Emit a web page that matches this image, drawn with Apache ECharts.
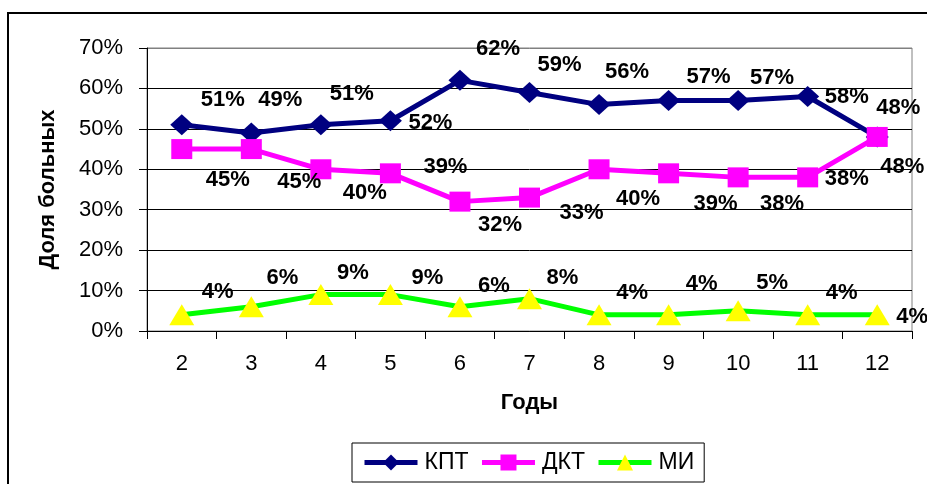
<!DOCTYPE html>
<html>
<head>
<meta charset="utf-8">
<script src="https://cdn.jsdelivr.net/npm/echarts@6/dist/echarts.min.js"></script>
<style>
  html, body { margin: 0; padding: 0; background: #fff; }
  #chart { width: 927px; height: 484px; }
</style>
</head>
<body>
<div id="chart"></div>
<script>
// Годы наблюдения
const years = ['2', '3', '4', '5', '6', '7', '8', '9', '10', '11', '12'];

// Доля больных, %
const kpt = [51, 49, 51, 52, 62, 59, 56, 57, 57, 58, 48];
const dkt = [45, 45, 40, 39, 32, 33, 40, 39, 38, 38, 48];
const mi  = [4, 6, 9, 9, 6, 8, 4, 4, 5, 4, 4];

// Y axis ticks
const yTicks = [0, 10, 20, 30, 40, 50, 60, 70];

// Where each value label sits relative to its point (px)
const kptLabelShift = [[41,-25],[29,-33],[31,-31],[40,2],[38,-31],[30,-28],[28,-33],[40,-24],[34,-23],[39,0],[21,-29]];
const dktLabelShift = [[46,31],[48,33],[44,24],[55,-6],[40,23],[52,15],[39,30],[47,31],[44,27],[39,2],[25,30]];
const miLabelShift  = [[36,-23],[31,-29],[32,-22],[37,-17],[34,-21],[33,-21],[33,-22],[33,-31],[34,-28],[34,-22],[35,2]];

const FONT = '"Liberation Sans", Arial, sans-serif';

function withLabels(values, shifts) {
  return values.map((v, i) => ({ value: v, label: { offset: shifts[i] } }));
}

const valueLabel = {
  show: true,
  position: 'inside',
  formatter: '{c}%',
  fontFamily: FONT,
  fontSize: 22,
  fontWeight: 'bold',
  color: '#000'
};

const chart = echarts.init(document.getElementById('chart'), null, { renderer: 'canvas' });

chart.setOption({
  backgroundColor: '#fff',
  animation: false,
  textStyle: { fontFamily: FONT },
  graphic: [{
    type: 'rect',
    shape: { x: 8, y: 13, width: 1000, height: 1000 },
    style: { fill: 'none', stroke: '#000', lineWidth: 2 },
    z: -1,
    silent: true
  }],
  grid: {
    left: 147, top: 48, width: 765, height: 283,
    show: true, borderColor: '#808080', borderWidth: 1,
    backgroundColor: 'transparent'
  },
  legend: {
    left: 352, top: 443,
    padding: [8, 10, 8, 10],
    itemGap: 11,
    itemWidth: 53,
    itemHeight: 20,
    borderColor: '#000',
    borderWidth: 1,
    backgroundColor: '#fff',
    lineStyle: { width: 5 },
    textStyle: { fontFamily: FONT, fontSize: 23, color: '#000', padding: [0, 0, 0, 2] },
    data: [
      { name: 'КПТ', itemStyle: { color: '#000080' }, lineStyle: { color: '#000080', width: 5 } },
      { name: 'ДКТ', itemStyle: { color: '#FF00FF' }, lineStyle: { color: '#FF00FF', width: 5 } },
      { name: 'МИ', itemStyle: { color: '#FFFF00' }, lineStyle: { color: '#00FF00', width: 5 } }
    ]
  },
  xAxis: {
    type: 'category',
    data: years,
    boundaryGap: true,
    name: 'Годы',
    nameLocation: 'middle',
    nameGap: 61,
    nameTextStyle: { fontFamily: FONT, fontSize: 22, fontWeight: 'bold', color: '#000' },
    axisLine: { show: true, lineStyle: { color: '#000', width: 1 } },
    axisTick: { show: true, alignWithLabel: false, length: 8, lineStyle: { color: '#000', width: 1 } },
    axisLabel: { fontFamily: FONT, fontSize: 22, color: '#000', margin: 22 },
    splitLine: { show: false }
  },
  yAxis: {
    type: 'value',
    min: yTicks[0],
    max: yTicks[yTicks.length - 1],
    interval: yTicks[1] - yTicks[0],
    name: 'Доля больных',
    nameLocation: 'middle',
    nameRotate: 90,
    nameGap: 88,
    nameTextStyle: { fontFamily: FONT, fontSize: 22, fontWeight: 'bold', color: '#000' },
    axisLine: { show: true, lineStyle: { color: '#000', width: 1 } },
    axisTick: { show: true, length: 8, lineStyle: { color: '#000', width: 1 } },
    axisLabel: { fontFamily: FONT, fontSize: 22, color: '#000', margin: 24, formatter: '{value}%' },
    splitLine: { show: true, lineStyle: { color: ['#000', '#000', '#000', '#000', '#000', '#000', '#000', '#808080'], width: 1 } }
  },
  series: [
    {
      name: 'КПТ',
      type: 'line',
      data: withLabels(kpt, kptLabelShift),
      symbol: 'diamond',
      symbolSize: [23, 21],
      showAllSymbol: true,
      lineStyle: { color: '#000080', width: 5 },
      itemStyle: { color: '#000080' },
      label: valueLabel
    },
    {
      name: 'ДКТ',
      type: 'line',
      data: withLabels(dkt, dktLabelShift),
      symbol: 'rect',
      symbolSize: [21, 20],
      showAllSymbol: true,
      lineStyle: { color: '#FF00FF', width: 5 },
      itemStyle: { color: '#FF00FF' },
      label: valueLabel
    },
    {
      name: 'МИ',
      type: 'line',
      data: withLabels(mi, miLabelShift),
      symbol: 'triangle',
      symbolSize: [25, 21],
      showAllSymbol: true,
      lineStyle: { color: '#00FF00', width: 5 },
      itemStyle: { color: '#FFFF00' },
      label: valueLabel
    }
  ]
});
</script>
</body>
</html>
